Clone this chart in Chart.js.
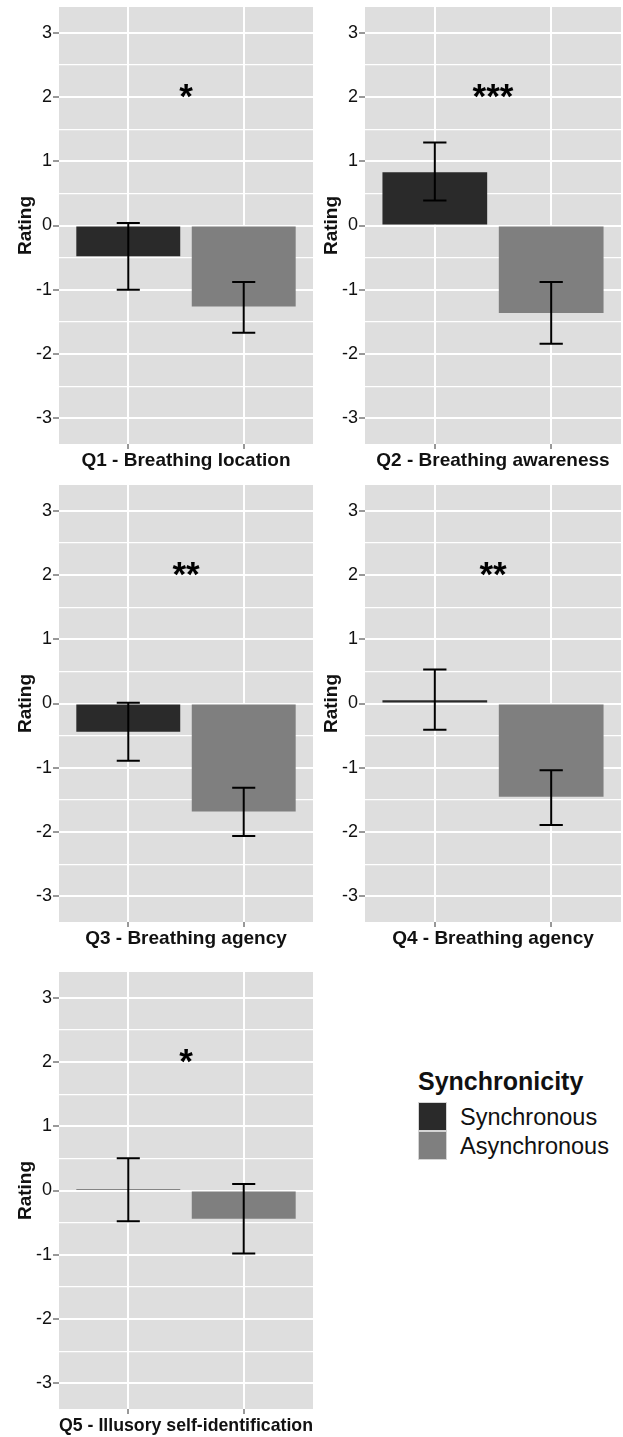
<!DOCTYPE html>
<html>
<head>
<meta charset="utf-8">
<script src="https://cdn.jsdelivr.net/npm/chart.js@4.4.1/dist/chart.umd.min.js"></script>
<style>
    html, body { margin: 0; padding: 0; background: #fff; }
    body { width: 623px; height: 1437px; position: relative; overflow: hidden; font-family: 'Liberation Sans', Arial, sans-serif; }
    canvas { position: absolute; }
    .legend { position: absolute; left: 418px; top: 1067px; color: #111; }
    .legend-title { font-weight: bold; font-size: 25px; line-height: 28px; margin-bottom: 7px; }
    .legend-row { display: flex; align-items: center; height: 29px; }
    .legend-key { width: 27px; height: 27px; border: 1px solid #d4d4d4; margin-right: 13px; }
    .legend-label { font-size: 23.5px; line-height: 29px; position: relative; top: 1px; }
</style>
</head>
<body>
<div class="legend" id="legend"></div>
<script>
// Data
const questions = ['Q1 - Breathing location', 'Q2 - Breathing awareness', 'Q3 - Breathing agency', 'Q4 - Breathing agency', 'Q5 - Illusory self-identification'];
const seriesNames = ['Synchronous', 'Asynchronous'];
const syncMeans = [-0.48, 0.83, -0.44, 0.05, 0.025];
const syncLower = [-1.00, 0.39, -0.89, -0.41, -0.48];
const syncUpper = [0.04, 1.29, 0.01, 0.53, 0.50];
const asyncMeans = [-1.26, -1.36, -1.68, -1.45, -0.44];
const asyncLower = [-1.67, -1.84, -2.06, -1.89, -0.98];
const asyncUpper = [-0.88, -0.88, -1.31, -1.04, 0.10];
const significance = ['*', '***', '**', '**', '*'];
const starLevel = 2.08;
const majorTicks = [-3, -2, -1, 0, 1, 2, 3];
const minorTicks = [-2.5, -1.5, -0.5, 0.5, 1.5, 2.5];

const seriesColors = ['#2a2a2a', '#7f7f7f'];
const panelBg = '#dedede';
const FONT = "'Liberation Sans', Arial, sans-serif";

// where each panel sits on the page
const panels = [
    { left: 0, top: 0, width: 315 },
    { left: 306, top: 0, width: 317 },
    { left: 0, top: 478, width: 315 },
    { left: 306, top: 478, width: 317 },
    { left: 0, top: 965, width: 315 }
];
const PANEL_H = 474;

const panelBackground = {
    id: 'panelBackground',
    beforeDraw(chart) {
        const { ctx, chartArea: a } = chart;
        ctx.save();
        ctx.fillStyle = panelBg;
        ctx.fillRect(a.left, a.top, a.right - a.left, a.bottom - a.top);
        ctx.restore();
    }
};

const errorBars = {
    id: 'errorBars',
    afterDatasetsDraw(chart, args, opts) {
        const { ctx, scales: { x, y } } = chart;
        const capHalf = x.getPixelForValue(1.1) - x.getPixelForValue(1);
        ctx.save();
        ctx.strokeStyle = '#000';
        ctx.lineWidth = 2;
        opts.bars.forEach(b => {
            const px = x.getPixelForValue(b.x);
            const yl = y.getPixelForValue(b.lo);
            const yh = y.getPixelForValue(b.hi);
            ctx.beginPath();
            ctx.moveTo(px, yl); ctx.lineTo(px, yh);
            ctx.moveTo(px - capHalf, yl); ctx.lineTo(px + capHalf, yl);
            ctx.moveTo(px - capHalf, yh); ctx.lineTo(px + capHalf, yh);
            ctx.stroke();
        });
        // significance stars
        const fs = 35;
        ctx.fillStyle = '#000';
        ctx.font = `bold ${fs}px ${FONT}`;
        ctx.textAlign = 'center';
        ctx.textBaseline = 'alphabetic';
        ctx.fillText(opts.stars, x.getPixelForValue(1.5), y.getPixelForValue(starLevel) + fs * 0.47);
        ctx.restore();
    }
};

questions.forEach((q, i) => {
    const p = panels[i];
    const canvas = document.createElement('canvas');
    canvas.width = p.width;
    canvas.height = PANEL_H;
    canvas.style.left = p.left + 'px';
    canvas.style.top = p.top + 'px';
    document.body.appendChild(canvas);

    new Chart(canvas.getContext('2d'), {
        type: 'bar',
        data: {
            datasets: [{
                label: 'Rating',
                data: [{ x: 1, y: syncMeans[i] }, { x: 2, y: asyncMeans[i] }],
                backgroundColor: seriesColors,
                borderWidth: 0,
                categoryPercentage: 1,
                barPercentage: 0.9
            }]
        },
        options: {
            responsive: false,
            animation: false,
            devicePixelRatio: 1,
            layout: { padding: { top: 7, right: 2, left: 0, bottom: 0 } },
            plugins: {
                legend: { display: false },
                tooltip: { enabled: false },
                errorBars: {
                    bars: [
                        { x: 1, lo: syncLower[i], hi: syncUpper[i] },
                        { x: 2, lo: asyncLower[i], hi: asyncUpper[i] }
                    ],
                    stars: significance[i]
                }
            },
            scales: {
                x: {
                    type: 'linear',
                    min: 0.4,
                    max: 2.6,
                    offset: false,
                    afterBuildTicks: (s) => { s.ticks = [{ value: 1 }, { value: 2 }]; },
                    afterFit: (s) => { s.height = 30; s.paddingLeft = 0; s.paddingRight = 0; },
                    grid: { offset: false, color: '#fff', lineWidth: 2, tickLength: 5, tickColor: '#333', tickWidth: 1 },
                    border: { display: false },
                    ticks: { display: false },
                    title: {
                        display: true, text: q, color: '#111',
                        font: { family: FONT, size: 19, weight: 'bold' },
                        padding: { top: 0, bottom: 2 }
                    }
                },
                y: {
                    min: -3.4,
                    max: 3.4,
                    afterBuildTicks: (s) => { s.ticks = majorTicks.concat(minorTicks).sort((a, b) => a - b).map(v => ({ value: v })); },
                    afterFit: (s) => { s.width = 59; s.paddingTop = 0; s.paddingBottom = 0; },
                    grid: {
                        color: '#fff',
                        lineWidth: (c) => majorTicks.includes(c.tick.value) ? 2 : 1.2,
                        tickLength: 6,
                        tickColor: (c) => majorTicks.includes(c.tick.value) ? '#333' : 'rgba(0,0,0,0)',
                        tickWidth: 1
                    },
                    border: { display: false },
                    ticks: {
                        autoSkip: false,
                        padding: 1,
                        color: '#111',
                        font: { family: FONT, size: 18 },
                        callback: (v) => majorTicks.includes(v) ? String(v) : ''
                    },
                    title: {
                        display: true, text: 'Rating', color: '#111',
                        font: { family: FONT, size: 19, weight: 'bold' },
                        padding: { top: 14, bottom: 0 }
                    }
                }
            }
        },
        plugins: [panelBackground, errorBars]
    });
});

// legend
const legend = document.getElementById('legend');
legend.innerHTML = '<div class="legend-title">Synchronicity</div>' +
    seriesNames.map((n, k) => `<div class="legend-row"><div class="legend-key" style="background:${seriesColors[k]}"></div><span class="legend-label">${n}</span></div>`).join('');
</script>
</body>
</html>
